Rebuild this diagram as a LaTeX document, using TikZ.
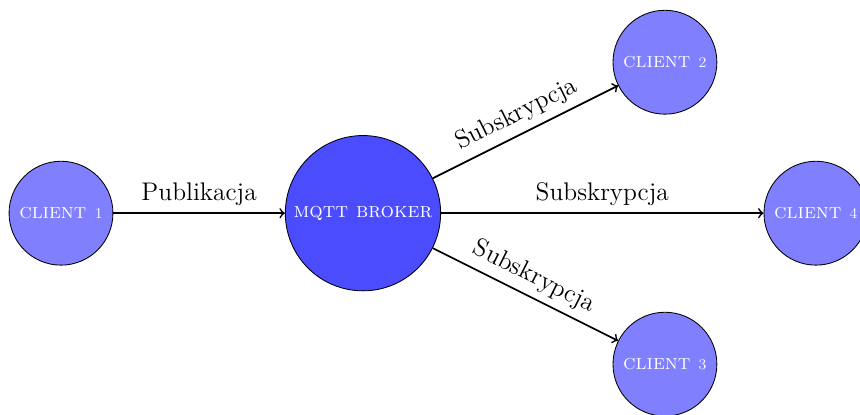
\documentclass[tikz,border=0pt]{standalone}
\newcommand{\cnum}[1]{{\scriptsize #1}}
\begin{document}
\begin{tikzpicture}[node distance={50mm}, thick,
    client/.style = {draw, thin, circle, fill=blue!50, text=white, minimum size=17.2mm, font=\scshape},
    broker/.style = {draw, thin, circle, fill=blue!70, text=white, minimum size=25.5mm, font=\scshape}]
    \useasboundingbox (-1.01,-3.33) rectangle (13.23,3.53);
    \node[client] (1) {client \cnum{1}};
    \node[broker] (b)[right of=1] {mqtt broker};
    \node[client] (2) at (10,2.5) {client \cnum{2}};
    \node[client] (4) at (12.5,0) {client \cnum{4}};
    \node[client] (3) at (10,-2.5) {client \cnum{3}};
    \draw[->] (1) -- node [midway, above, font=\large] {Publikacja}(b);
    \draw[->] (b) -- node [midway, above, sloped, font=\large] {Subskrypcja}(2);
    \draw[->] (b) -- node [midway, above, font=\large] {Subskrypcja}(4);
    \draw[->] (b) -- node [midway, above, sloped, font=\large] {Subskrypcja}(3);
\end{tikzpicture}
\end{document}
